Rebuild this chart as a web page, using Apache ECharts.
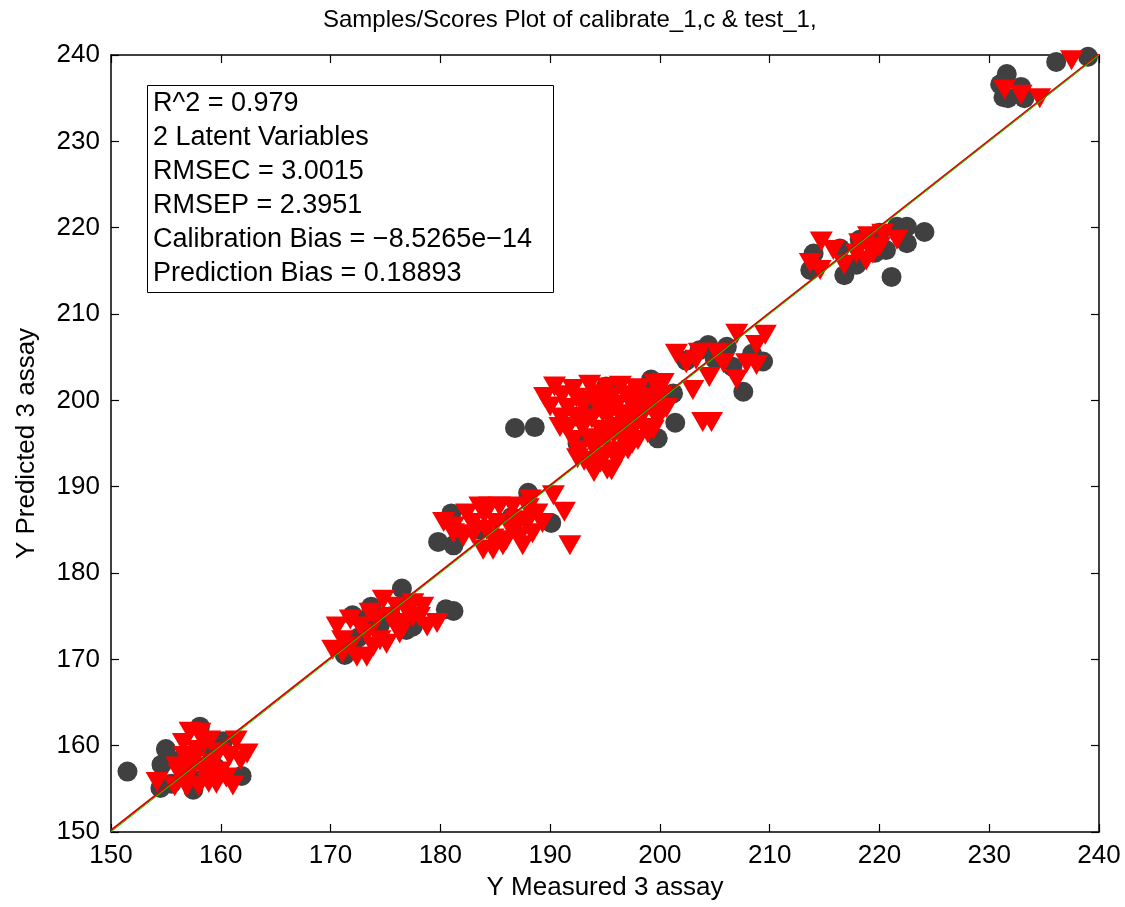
<!DOCTYPE html>
<html>
<head>
<meta charset="utf-8">
<script src="https://cdn.jsdelivr.net/npm/echarts@6/dist/echarts.min.js"></script>
<style>
html,body{margin:0;padding:0;background:#fff;}
#main{width:1125px;height:907px;}
</style>
</head>
<body>
<div id="main"></div>
<script>
// calibration samples (measured, predicted) - dark circles
var calPoints = [
  [151.5,157.0],[155.0,159.6],[154.6,157.8],[154.5,155.1],[158.1,162.2],[160.2,160.5],[161.9,156.5],
  [157.5,154.9],[156.5,158.5],[157.8,156.0],[159.5,157.5],[155.5,155.6],[158.8,159.8],
  [173.7,176.1],[172.0,175.1],[176.5,178.2],[176.9,173.4],[177.5,173.8],[171.3,170.5],[180.5,175.8],
  [181.2,175.6],[174.5,174.0],[172.5,172.5],[175.5,175.0],[173.2,174.6],
  [181.0,186.9],[179.8,183.6],[181.2,183.2],[188.0,189.3],[190.1,185.8],[183.5,185.0],[186.5,186.5],
  [186.8,196.8],[188.6,196.9],[195.1,201.6],[199.2,202.4],[199.4,200.4],[201.2,200.8],[201.4,197.4],
  [199.8,195.6],[193.5,199.0],[196.5,197.0],[192.5,195.0],[198.0,198.5],
  [204.4,206.4],[206.1,206.2],[208.4,205.4],[209.4,204.5],[206.6,203.9],[207.6,201.0],[203.6,205.8],
  [202.4,204.6],[205.0,204.8],
  [214.0,217.0],[213.7,215.1],[216.4,217.6],[216.8,214.5],[217.9,215.7],[218.8,218.9],[220.6,217.4],
  [221.6,220.1],[222.5,220.1],[222.5,218.2],[224.1,219.5],[221.1,214.3],[219.6,217.1],[220.0,219.4],
  [218.2,218.6],
  [236.1,239.2],[239.0,239.8],[231.6,237.8],[231.0,236.6],[231.3,235.1],[232.9,236.3],[233.2,235.0],
  [231.7,235.0]
];
// test samples (measured, predicted) - red triangles
var testPoints = [
  [154.2,155.8],[157.2,161.6],[158.1,161.5],[156.6,160.3],[159.0,160.6],[161.4,160.6],[162.4,159.1],
  [161.1,155.4],[156.0,157.6],[158.7,156.8],[156.9,155.2],[159.6,155.6],[157.5,158.2],[158.3,157.5],
  [157.0,156.5],[159.2,158.0],[160.0,157.0],[160.5,156.3],[158.0,155.3],[156.2,156.8],[157.8,159.5],
  [158.5,160.3],[160.8,158.8],[159.8,159.2],[157.3,157.0],[155.8,155.3],[158.9,155.7],[161.8,158.3],
  [159.4,156.2],[156.7,158.8],
  [170.2,171.1],[170.6,173.8],[171.8,174.6],[173.3,170.3],[172.4,170.3],[175.1,171.8],[174.8,176.9],
  [176.0,176.1],[177.5,176.5],[178.4,176.1],[178.8,173.8],[179.7,174.2],[174.2,174.6],[176.6,174.2],
  [173.3,173.0],[171.1,172.2],[175.4,174.9],[177.5,174.9],[172.7,173.8],[174.5,172.2],[176.3,173.0],
  [171.8,171.5],[176.0,173.8],[173.6,175.4],[176.9,175.7],[178.1,174.9],[173.9,171.5],[171.1,170.7],
  [180.3,185.9],[181.2,185.4],[183.6,187.7],[184.5,187.7],[185.4,187.7],[186.6,187.7],[188.2,188.5],
  [190.3,189.0],[191.3,187.1],[191.8,183.2],[182.1,184.2],[183.9,182.7],[184.8,182.7],[186.0,183.8],
  [187.2,184.2],[188.4,184.6],[189.3,185.8],[182.9,185.8],[185.1,185.8],[186.9,186.1],[188.8,186.9],
  [182.4,186.9],[184.2,185.0],[186.3,185.4],[187.9,185.8],[185.7,183.2],[181.2,184.6],
  [183.0,184.5],[184.8,184.0],[186.8,185.0],[188.0,187.5],[184.0,186.8],[187.5,183.2],
  [190.4,201.6],[192.1,201.3],[193.6,201.8],[195.2,201.5],[196.4,201.7],[198.1,201.4],[199.6,201.9],
  [189.5,200.4],[191.1,200.6],[192.4,200.3],[194.1,200.7],[195.6,200.4],[197.0,200.6],[198.6,200.3],
  [200.1,200.5],[190.0,199.3],[191.6,199.1],[193.0,199.4],[194.4,199.2],[196.1,199.5],[197.6,199.2],
  [199.0,199.4],[200.6,199.1],[190.9,196.9],[192.3,198.1],[193.8,197.9],[195.3,198.2],[196.8,197.9],
  [198.3,198.1],[199.8,197.8],[191.6,196.7],[193.0,196.9],[194.6,196.6],[196.0,196.9],[197.4,196.6],
  [199.1,196.8],[192.1,195.4],[193.6,195.6],[195.0,195.3],[196.6,195.6],[198.0,195.4],[192.6,194.2],
  [194.0,194.4],[195.6,194.1],[197.1,194.3],[193.1,193.0],[194.6,192.8],[196.1,193.1],[194.0,191.7],
  [195.6,191.9],[192.5,193.3],[197.8,197.1],[198.9,196.2],
  [191.0,198.0],[192.8,197.2],[194.8,198.6],[196.3,198.4],[197.2,200.0],[195.0,199.8],[193.3,200.0],
  [194.3,195.5],[195.8,196.0],[197.5,195.0],[196.2,194.0],[194.8,193.5],[193.8,192.3],[195.2,192.0],
  [199.5,198.5],[198.5,199.8],
  [207.0,207.7],[209.6,207.6],[208.8,206.4],[201.5,205.4],[203.6,205.5],[205.2,205.5],[202.4,204.3],
  [204.5,202.7],[203.3,204.7],[205.8,204.3],[207.9,204.3],[208.8,204.1],[207.0,202.4],[203.0,201.2],
  [200.3,202.0],[197.9,201.2],[203.9,197.5],[204.7,197.5],[199.4,196.6],[197.3,197.7],
  [214.7,218.4],[213.7,215.9],[214.6,215.1],[215.8,217.4],[216.8,215.7],[218.2,218.2],[219.0,219.0],
  [220.3,219.3],[221.6,218.6],[219.4,217.0],[218.8,216.2],[217.9,217.0],[220.0,217.8],
  [231.4,236.0],[232.9,235.4],[234.6,235.0],[237.5,239.4]
];
var fitLine = [[150,150.2],[240,240.1]];
var idealLine = [[150,150],[240,240]];
var statsText = [
  'R^2 = 0.979',
  '2 Latent Variables',
  'RMSEC = 3.0015',
  'RMSEP = 2.3951',
  'Calibration Bias = \u22128.5265e\u221214',
  'Prediction Bias = 0.18893'
];
var axisMin = 150, axisMax = 240, axisStep = 10;

var font = '"Liberation Sans", Arial, Helvetica, sans-serif';
var chart = echarts.init(document.getElementById('main'));

function frameAxis(pos, showLabels, name) {
  return {
    type: 'value', position: pos, min: axisMin, max: axisMax, interval: axisStep,
    name: name || '', nameLocation: 'middle',
    nameGap: pos === 'bottom' ? 43 : 71,
    nameTextStyle: { color: '#000', fontSize: 26, fontFamily: font },
    axisLine: { show: true, onZero: false, lineStyle: { color: '#000', width: 1.5 } },
    axisTick: { show: true, inside: true, length: 8, lineStyle: { color: '#000', width: 1.2 } },
    axisLabel: { show: showLabels, color: '#000', fontSize: 26, fontFamily: font, margin: 11 },
    splitLine: { show: false }
  };
}

chart.setOption({
  backgroundColor: '#fff',
  animation: false,
  title: [
    { text: 'Samples/Scores Plot of calibrate_1,c & test_1,', left: 318, top: 3,
      textStyle: { color: '#000', fontSize: 24, fontWeight: 'normal', fontFamily: font } },
    { text: statsText.join('\n'), left: 147, top: 85, padding: [2, 22, 2, 6],
      borderColor: '#000', borderWidth: 1, backgroundColor: '#fff',
      textStyle: { color: '#000', fontSize: 27, fontWeight: 'normal', fontFamily: font, lineHeight: 34 } }
  ],
  grid: { left: 111, right: 26, top: 55, bottom: 75, containLabel: false },
  xAxis: [frameAxis('bottom', true, 'Y Measured 3 assay'), frameAxis('top', false)],
  yAxis: [frameAxis('left', true, 'Y Predicted 3 assay'), frameAxis('right', false)],
  series: [
    { type: 'scatter', name: 'calibrate', data: calPoints, symbol: 'circle', symbolSize: 20,
      itemStyle: { color: '#404040', opacity: 1 }, z: 2 },
    { type: 'scatter', name: 'test', data: testPoints, symbol: 'triangle', symbolRotate: 180,
      symbolSize: [23, 20], itemStyle: { color: '#ff0000', opacity: 1 }, z: 3 },
    { type: 'line', data: fitLine, showSymbol: false, clip: true,
      lineStyle: { color: '#e00000', width: 2 }, z: 4 },
    { type: 'line', data: idealLine, showSymbol: false, clip: true,
      lineStyle: { color: '#00dd00', width: 1 }, z: 5 }
  ]
});
</script>
</body>
</html>
